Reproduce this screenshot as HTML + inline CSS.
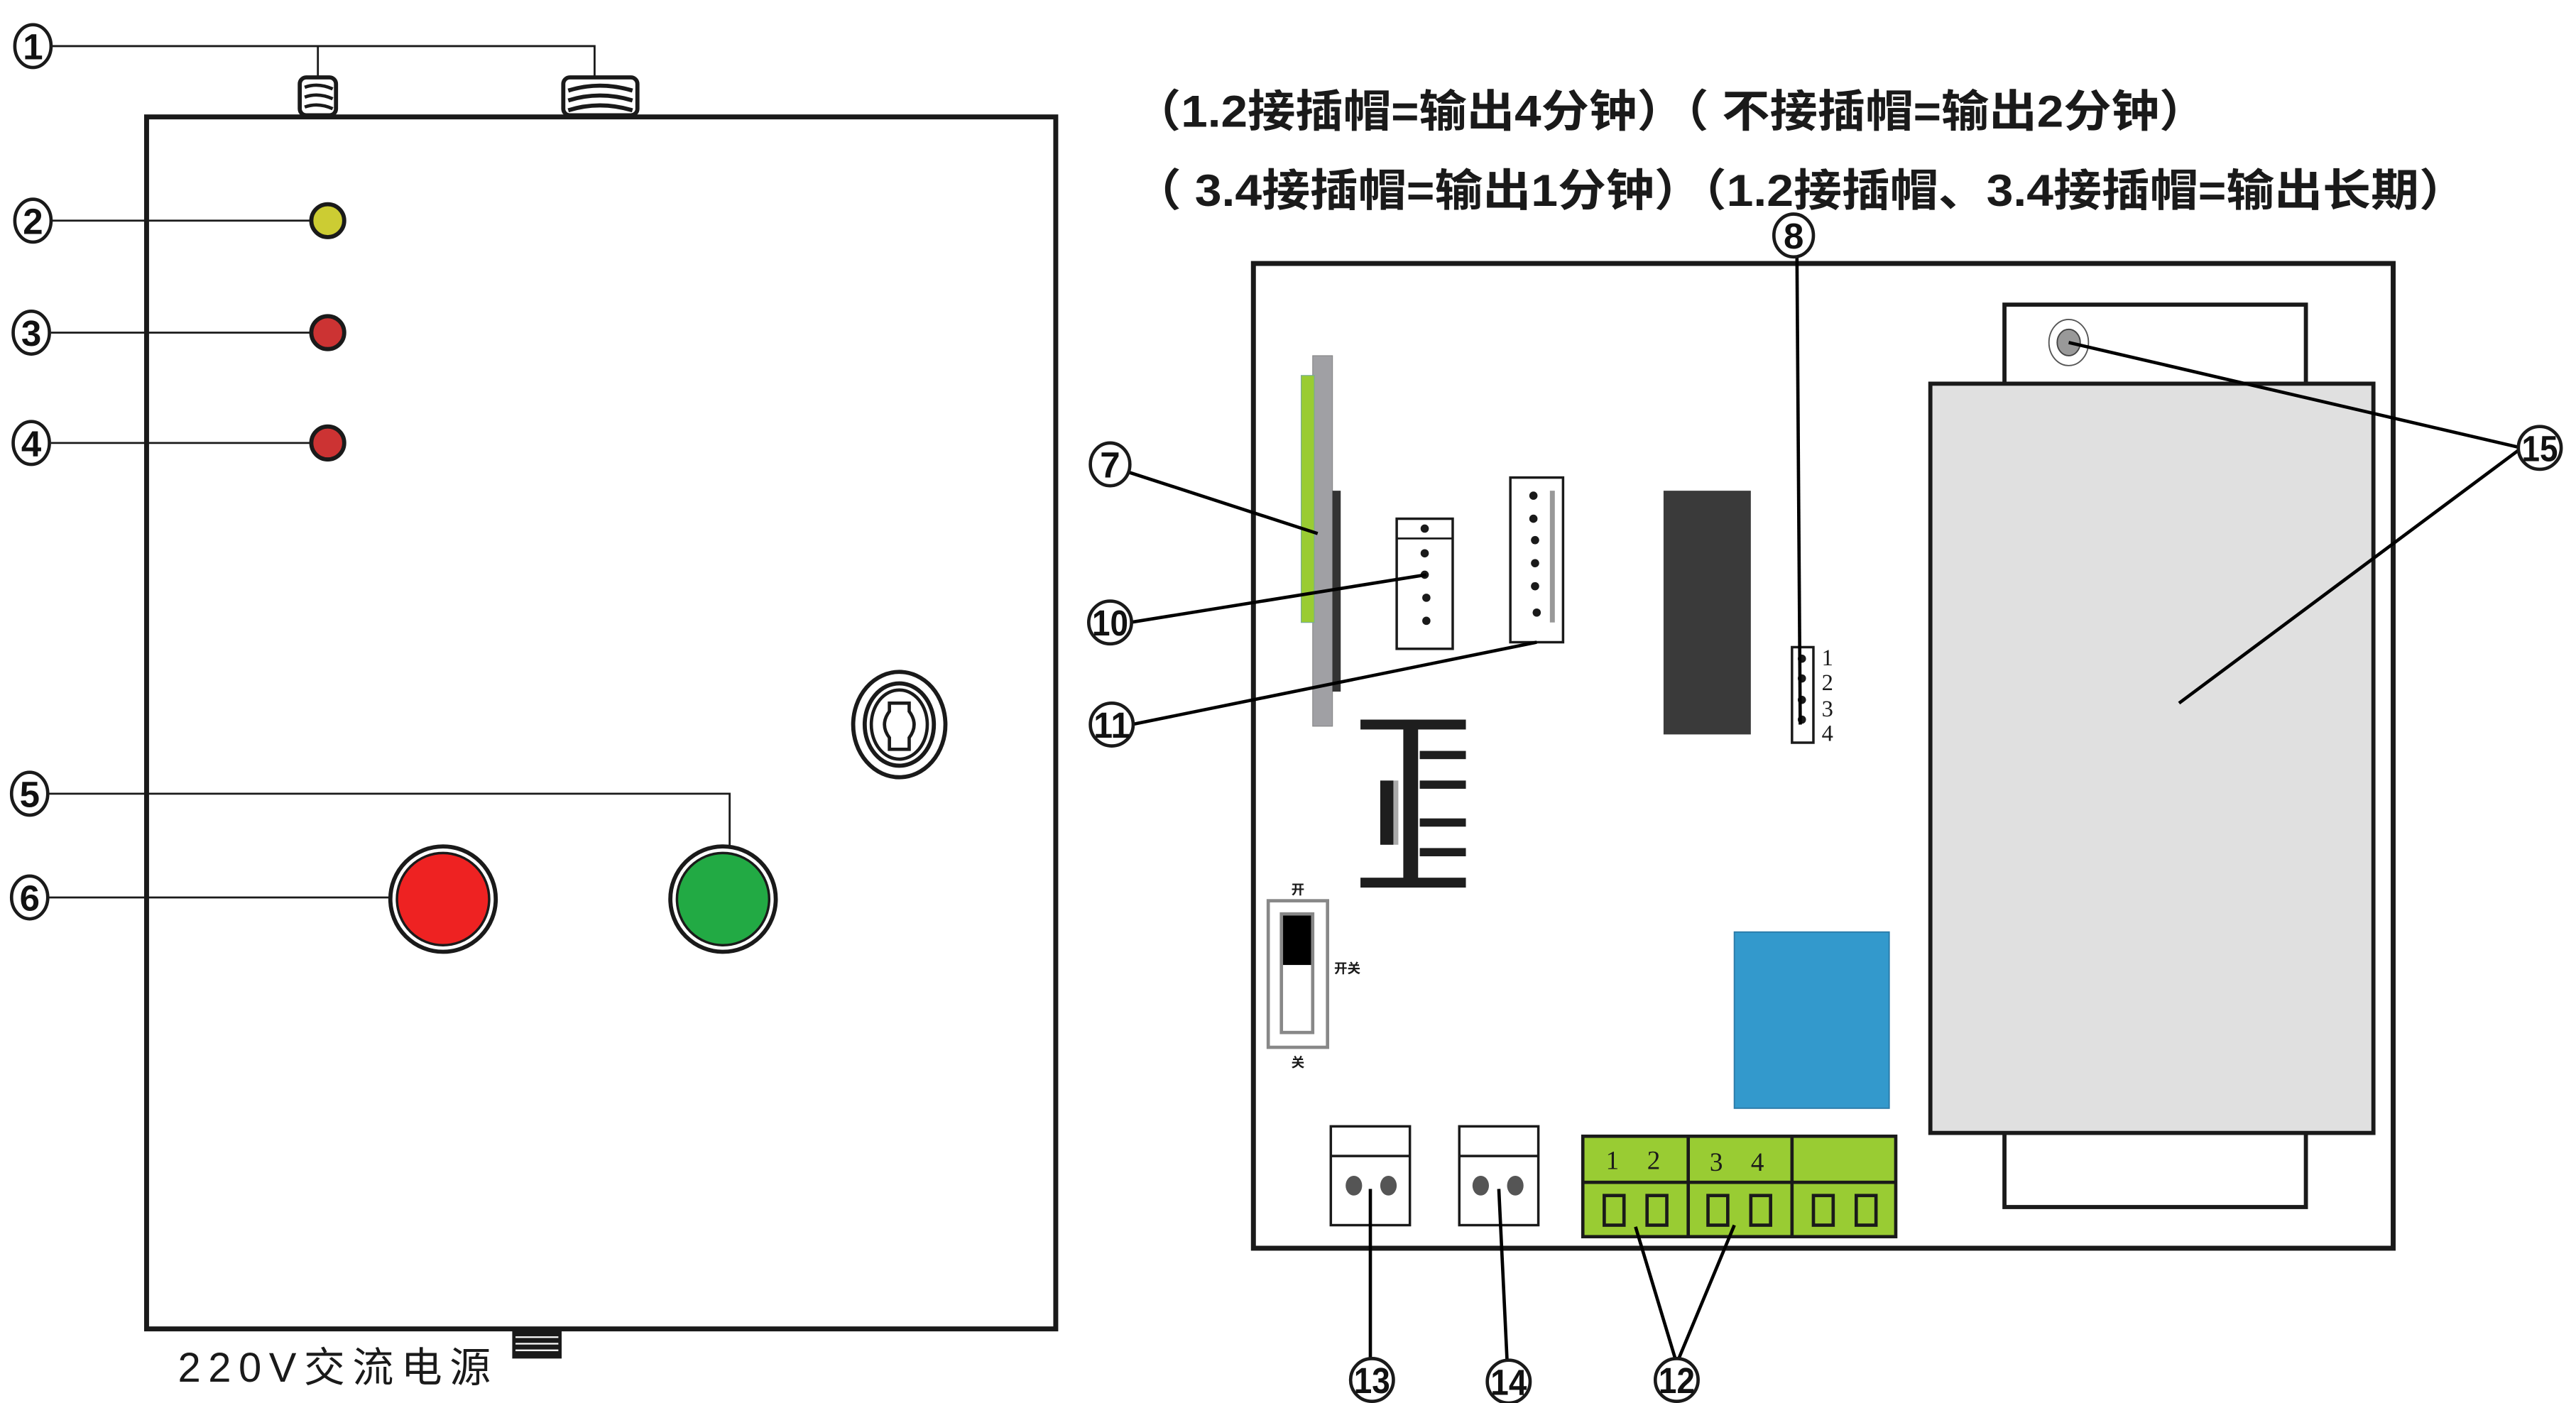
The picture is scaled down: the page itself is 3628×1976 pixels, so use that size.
<!DOCTYPE html>
<html><head><meta charset="utf-8"><style>
html,body{margin:0;padding:0;background:#fff;}
svg{display:block;}
text{font-family:"Liberation Sans","Noto Sans CJK SC",sans-serif;}
text.s{font-family:"Liberation Serif",serif;}
.n{font-weight:bold;font-size:22px;text-anchor:middle;}
</style></head><body>
<svg width="3628" height="1976" viewBox="0 0 1564 852" preserveAspectRatio="none" xmlns="http://www.w3.org/2000/svg">
<rect width="1564" height="852" fill="#fff"/>
<g fill="none" stroke="#1a1a1a">
<rect x="89" y="71" width="552" height="736" stroke-width="3"/>
<rect x="182" y="47" width="22" height="23" rx="4" stroke-width="2.5" fill="#fff"/>
<path d="M185 53 Q193 50 202 54 M185 59 Q193 56 202 60 M185 65 Q193 62 202 66" stroke-width="2"/>
<rect x="342" y="47" width="45" height="23" rx="4" stroke-width="2.5" fill="#fff"/>
<path d="M345 55 Q364 49 384 55 M345 61 Q364 55 384 61 M345 67 Q364 61 384 67" stroke-width="2.5"/>
<path d="M31 28 H361 V47 M193 28 V47" stroke-width="1.2"/>
<path d="M31 134 H189 M31 202 H189 M31 269 H189 M29 482 H443 V515 M29 545 H240" stroke-width="1.2"/>
<ellipse cx="546" cy="440" rx="28" ry="32" stroke-width="2.5"/>
<ellipse cx="546" cy="440" rx="21" ry="25" stroke-width="2.5"/>
<ellipse cx="546" cy="440" rx="17" ry="21" stroke-width="2"/>
<path d="M540 427 H552 V432 Q558 440 552 448 V455 H540 V448 Q534 440 540 432 Z" stroke-width="2"/>
<rect x="311" y="808" width="30" height="17" fill="#1a1a1a" stroke="none"/>
<path d="M313 812 H339 M313 816 H339 M313 820 H339" stroke="#fff" stroke-width="1"/>
</g>
<circle cx="199" cy="134" r="10" fill="#cccc33" stroke="#1a1a1a" stroke-width="2.5"/>
<circle cx="199" cy="202" r="10" fill="#cc3333" stroke="#1a1a1a" stroke-width="2.5"/>
<circle cx="199" cy="269" r="10" fill="#cc3333" stroke="#1a1a1a" stroke-width="2.5"/>
<circle cx="269" cy="546" r="32" fill="#fff" stroke="#1a1a1a" stroke-width="2.5"/>
<circle cx="269" cy="546" r="28" fill="#ee2222" stroke="#1a1a1a" stroke-width="1.5"/>
<circle cx="439" cy="546" r="32" fill="#fff" stroke="#1a1a1a" stroke-width="2.5"/>
<circle cx="439" cy="546" r="28" fill="#22aa44" stroke="#1a1a1a" stroke-width="1.5"/>
<text x="108" y="839" font-size="25" fill="#1a1a1a" textLength="190" lengthAdjust="spacing">220V交流电源</text>

<text x="688" y="77" font-size="27" font-weight="bold" fill="#1a1a1a" textLength="652" lengthAdjust="spacingAndGlyphs">（1.2接插帽=输出4分钟）（ 不接插帽=输出2分钟）</text>
<text x="688" y="125" font-size="27" font-weight="bold" fill="#1a1a1a" textLength="810" lengthAdjust="spacingAndGlyphs">（  3.4接插帽=输出1分钟）（1.2接插帽、3.4接插帽=输出长期）</text>

<rect x="761" y="160" width="692" height="598" fill="none" stroke="#1a1a1a" stroke-width="3"/>
<rect x="1217" y="185" width="183" height="50" fill="#fff" stroke="#1a1a1a" stroke-width="2.5"/>
<rect x="1217" y="686" width="183" height="47" fill="#fff" stroke="#1a1a1a" stroke-width="2.5"/>
<rect x="1172" y="233" width="269" height="455" fill="#e0e0e0" stroke="#1a1a1a" stroke-width="2.5"/>
<ellipse cx="1256" cy="208" rx="12" ry="14" fill="none" stroke="#555" stroke-width="0.8"/>
<ellipse cx="1256" cy="208" rx="7" ry="8" fill="#999" stroke="#444" stroke-width="0.8"/>
<rect x="1010" y="298" width="53" height="148" fill="#3a3a3a"/>
<rect x="1088" y="393" width="13" height="58" fill="#fff" stroke="#1a1a1a" stroke-width="1.5"/>
<g fill="#1a1a1a"><circle cx="1094" cy="400" r="2.5"/><circle cx="1094" cy="412" r="2.5"/><circle cx="1094" cy="425" r="2.5"/><circle cx="1094" cy="437" r="2.5"/></g>
<g font-size="14" fill="#1a1a1a"><text class="s" x="1106" y="404">1</text><text class="s" x="1106" y="419">2</text><text class="s" x="1106" y="435">3</text><text class="s" x="1106" y="450">4</text></g>
<rect x="797" y="216" width="12" height="225" fill="#a0a0a4" stroke="#888" stroke-width="0.5"/>
<rect x="790" y="228" width="8" height="150" fill="#99cc33" stroke="#7a9" stroke-width="0.5"/>
<rect x="809" y="298" width="5" height="122" fill="#333"/>
<rect x="848" y="315" width="34" height="79" fill="#fff" stroke="#1a1a1a" stroke-width="1.5"/>
<line x1="848" y1="327" x2="882" y2="327" stroke="#1a1a1a" stroke-width="1.2"/>
<g fill="#1a1a1a"><circle cx="865" cy="321" r="2.5"/><circle cx="865" cy="336" r="2.5"/><circle cx="865" cy="349" r="2.5"/><circle cx="866" cy="363" r="2.5"/><circle cx="866" cy="377" r="2.5"/></g>
<rect x="917" y="290" width="32" height="100" fill="#fff" stroke="#1a1a1a" stroke-width="1.5"/>
<rect x="941" y="298" width="3" height="80" fill="#999"/>
<g fill="#1a1a1a"><circle cx="931" cy="301" r="2.5"/><circle cx="931" cy="315" r="2.5"/><circle cx="932" cy="328" r="2.5"/><circle cx="932" cy="342" r="2.5"/><circle cx="932" cy="356" r="2.5"/><circle cx="933" cy="372" r="2.5"/></g>
<g fill="#1e1e1e">
<rect x="826" y="437" width="64" height="6"/><rect x="852" y="437" width="9" height="101"/><rect x="826" y="533" width="64" height="6"/>
<rect x="862" y="456" width="28" height="5"/><rect x="862" y="474" width="28" height="5"/><rect x="862" y="497" width="28" height="5"/><rect x="862" y="515" width="28" height="5"/>
<rect x="838" y="474" width="8" height="39"/></g>
<rect x="846" y="474" width="3" height="39" fill="#aaa"/>
<rect x="770" y="547" width="36" height="89" fill="#fff" stroke="#888" stroke-width="2"/>
<rect x="778" y="555" width="19" height="72" fill="#fff" stroke="#888" stroke-width="2"/>
<rect x="779" y="556" width="17" height="30" fill="#000"/>
<g font-size="8" font-weight="bold" fill="#1a1a1a"><text x="784" y="543">开</text><text x="810" y="591">开关</text><text x="784" y="648">关</text></g>
<rect x="1053" y="566" width="94" height="107" fill="#3399cc" stroke="#2a7aa8" stroke-width="0.8"/>
<g fill="#fff" stroke="#1a1a1a" stroke-width="1.5">
<rect x="808" y="684" width="48" height="60"/><line x1="808" y1="702" x2="856" y2="702"/>
<rect x="886" y="684" width="48" height="60"/><line x1="886" y1="702" x2="934" y2="702"/></g>
<g fill="#555"><ellipse cx="822" cy="720" rx="5" ry="6"/><ellipse cx="843" cy="720" rx="5" ry="6"/><ellipse cx="899" cy="720" rx="5" ry="6"/><ellipse cx="920" cy="720" rx="5" ry="6"/></g>
<rect x="961" y="690" width="190" height="61" fill="#99cc33" stroke="#1a1a1a" stroke-width="2"/>
<g stroke="#1a1a1a" stroke-width="2" fill="none"><line x1="1025" y1="690" x2="1025" y2="751"/><line x1="1088" y1="690" x2="1088" y2="751"/><line x1="961" y1="718" x2="1151" y2="718"/>
<rect x="974" y="726" width="12" height="18"/><rect x="1000" y="726" width="12" height="18"/><rect x="1037" y="726" width="12" height="18"/><rect x="1063" y="726" width="12" height="18"/><rect x="1101" y="726" width="12" height="18"/><rect x="1127" y="726" width="12" height="18"/></g>
<g font-size="16" fill="#1a1a1a"><text class="s" x="975" y="710">1</text><text class="s" x="1000" y="710">2</text><text class="s" x="1038" y="711">3</text><text class="s" x="1063" y="711">4</text></g>

<g stroke="#000" stroke-width="2" fill="none">
<line x1="1091" y1="155" x2="1093" y2="440"/>
<line x1="1531" y1="272" x2="1256" y2="208"/>
<line x1="1531" y1="272" x2="1323" y2="427"/>
<line x1="686" y1="287" x2="800" y2="324"/>
<line x1="686" y1="378" x2="866" y2="349"/>
<line x1="687" y1="440" x2="933" y2="390"/>
<line x1="832" y1="722" x2="832" y2="826"/>
<line x1="910" y1="722" x2="915" y2="826"/>
<path d="M993 745 L1018 828 L1053 744"/>
</g>

<g fill="#fff" stroke="#1a1a1a" stroke-width="2">
<ellipse cx="20" cy="28" rx="11" ry="13"/><ellipse cx="20" cy="134" rx="11" ry="13"/><ellipse cx="19" cy="202" rx="11" ry="13"/><ellipse cx="19" cy="269" rx="11" ry="13"/>
<ellipse cx="18" cy="482" rx="11" ry="13"/><ellipse cx="18" cy="545" rx="11" ry="13"/>
<ellipse cx="674" cy="282" rx="12" ry="13"/><ellipse cx="1089" cy="143" rx="12" ry="13"/><ellipse cx="674" cy="378" rx="13" ry="13"/><ellipse cx="675" cy="440" rx="13" ry="13"/>
<ellipse cx="1542" cy="272" rx="13" ry="13"/><ellipse cx="833" cy="838" rx="13" ry="13"/><ellipse cx="916" cy="839" rx="13" ry="13"/><ellipse cx="1018" cy="838" rx="13" ry="13"/>
</g>
<g class="n" fill="#111">
<text x="20" y="36">1</text><text x="20" y="142">2</text><text x="19" y="210">3</text><text x="19" y="277">4</text>
<text x="18" y="490">5</text><text x="18" y="553">6</text>
<text x="674" y="290">7</text><text x="1089" y="151">8</text>
<text x="674" y="386" textLength="22" lengthAdjust="spacingAndGlyphs">10</text>
<text x="675" y="448" textLength="22" lengthAdjust="spacingAndGlyphs">11</text>
<text x="1542" y="280" textLength="22" lengthAdjust="spacingAndGlyphs">15</text>
<text x="833" y="846" textLength="22" lengthAdjust="spacingAndGlyphs">13</text>
<text x="916" y="847" textLength="22" lengthAdjust="spacingAndGlyphs">14</text>
<text x="1018" y="846" textLength="22" lengthAdjust="spacingAndGlyphs">12</text>
</g>
</svg>
</body></html>
